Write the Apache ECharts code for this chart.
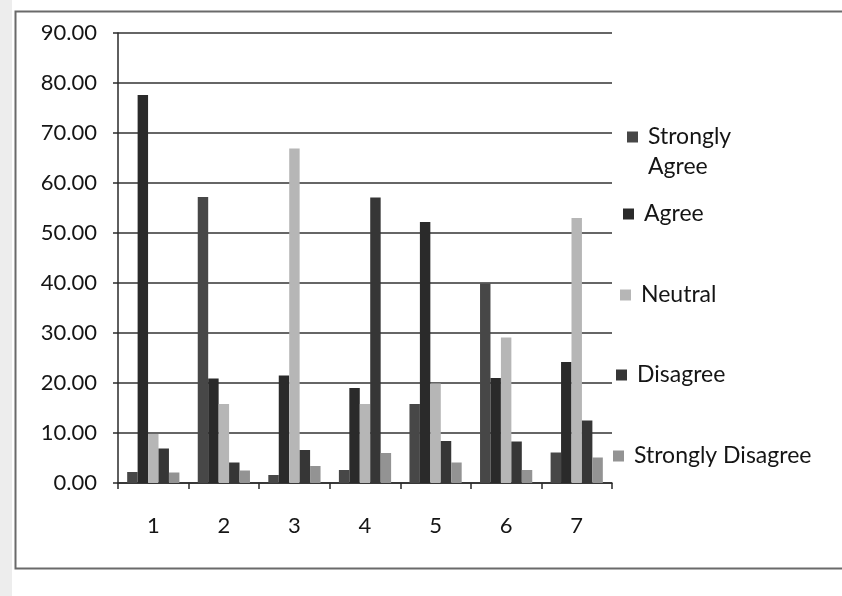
<!DOCTYPE html>
<html>
<head>
<meta charset="utf-8">
<style>
  html, body { margin: 0; padding: 0; background: #ffffff; }
  #chart { width: 842px; height: 596px; }
</style>
<script src="https://cdn.jsdelivr.net/npm/echarts@6/dist/echarts.min.js"></script>
</head>
<body>
<div id="chart"></div>
<script>
// ---- data ----
const categories = ['1', '2', '3', '4', '5', '6', '7'];
const seriesNames = ['Strongly Agree', 'Agree', 'Neutral', 'Disagree', 'Strongly Disagree'];
const stronglyAgree    = [2.2, 57.2, 1.6, 2.6, 15.8, 39.9, 6.1];
const agree            = [77.6, 20.9, 21.5, 19.0, 52.2, 21.0, 24.2];
const neutral          = [9.8, 15.8, 66.9, 15.8, 19.9, 29.1, 53.0];
const disagree         = [6.9, 4.1, 6.6, 57.1, 8.4, 8.3, 12.5];
const stronglyDisagree = [2.1, 2.5, 3.4, 6.0, 4.1, 2.6, 5.1];
const yTicks = { min: 0, max: 90, interval: 10 };

// ---- styling / layout ----
const seriesValues = [stronglyAgree, agree, neutral, disagree, stronglyDisagree];
const colors = ['#474747', '#2a2a2a', '#b6b6b6', '#363636', '#939393'];
const legendCenters = [137, 214, 295, 375, 456];
const legendLefts = [627, 623, 620, 616, 613];
const FONT = 'Lato, "Open Sans", sans-serif';
const LEG_LH = 30;

const chart = echarts.init(document.getElementById('chart'), null, { renderer: 'canvas' });

const legends = seriesNames.map((name, i) => {
  const twoLine = name === 'Strongly Agree';
  const boxH = twoLine ? 3 * LEG_LH : LEG_LH;
  return {
    data: [name],
    orient: 'vertical',
    left: legendLefts[i],
    top: legendCenters[i] - boxH / 2,
    padding: 0,
    itemWidth: 11,
    itemHeight: 11,
    icon: 'rect',
    selectedMode: false,
    formatter: n => (n === 'Strongly Agree' ? '\u00a0\nStrongly\nAgree' : n),
    textStyle: {
      fontFamily: FONT,
      fontSize: 23,
      color: '#151515',
      lineHeight: LEG_LH,
      padding: [0, 0, 0, 5]
    }
  };
});

const option = {
  animation: false,
  backgroundColor: '#ffffff',
  color: colors,
  graphic: [
    { type: 'rect', left: 0, top: 0, z: -10, silent: true,
      shape: { width: 12, height: 596 }, style: { fill: '#ededed' } },
    { type: 'rect', left: 13, top: 9, z: -5, silent: true,
      shape: { width: 840, height: 557 },
      style: { fill: 'none', stroke: '#6a6a6a', lineWidth: 2 } }
  ],
  legend: legends,
  grid: { left: 118, top: 33, width: 494, height: 450, containLabel: false },
  xAxis: {
    type: 'category',
    data: categories,
    axisLine: { show: true, lineStyle: { color: '#2a2a2a', width: 1.5 } },
    axisTick: { show: true, alignWithLabel: false, length: 6, lineStyle: { color: '#2a2a2a', width: 1.5 } },
    axisLabel: { margin: 32, fontFamily: FONT, fontSize: 22, color: '#151515' },
    splitLine: { show: false }
  },
  yAxis: {
    type: 'value',
    min: yTicks.min,
    max: yTicks.max,
    interval: yTicks.interval,
    axisLine: { show: true, lineStyle: { color: '#2a2a2a', width: 1.5 } },
    axisTick: { show: true, length: 5, lineStyle: { color: '#2a2a2a', width: 1.5 } },
    axisLabel: {
      margin: 21,
      fontFamily: FONT,
      fontSize: 22,
      color: '#151515',
      formatter: v => v.toFixed(2)
    },
    splitLine: { show: true, lineStyle: { color: '#333333', width: 1.6 } }
  },
  series: seriesNames.map((name, i) => ({
    name: name,
    type: 'bar',
    data: seriesValues[i],
    barGap: '0%',
    barCategoryGap: '26%',
    itemStyle: { color: colors[i] }
  }))
};

chart.setOption(option);
</script>
</body>
</html>
